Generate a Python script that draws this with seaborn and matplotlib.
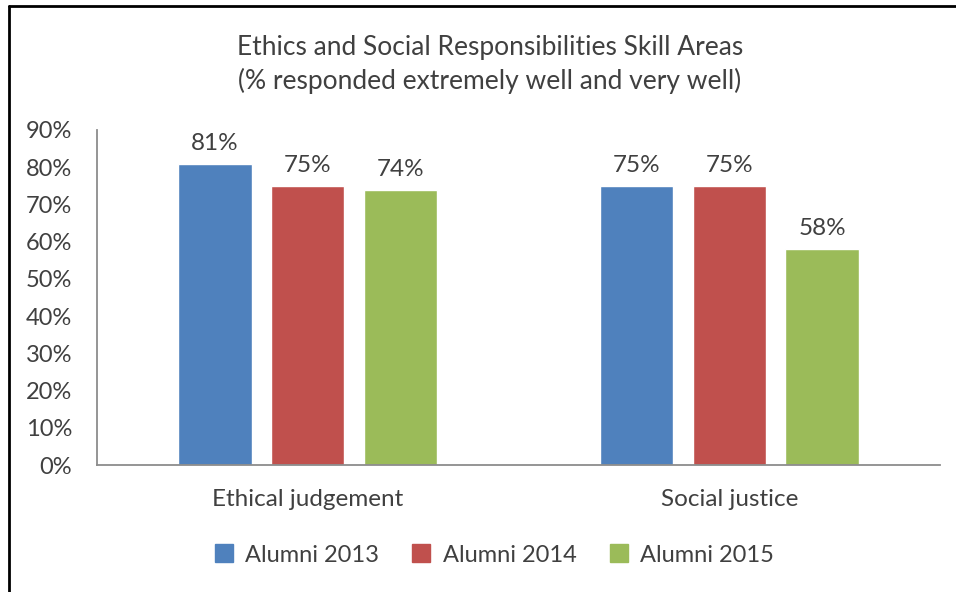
import seaborn as sns
import matplotlib.pyplot as plt
import pandas as pd
from matplotlib.lines import Line2D
from matplotlib.ticker import PercentFormatter

# values
skills = ['Ethical judgement', 'Social justice']
alumni_2013 = [0.81, 0.75]
alumni_2014 = [0.75, 0.75]
alumni_2015 = [0.74, 0.58]
series = ['Alumni 2013', 'Alumni 2014', 'Alumni 2015']
colors = ['#4F81BD', '#C0504D', '#9BBB59']

df = pd.DataFrame({
    'skill': skills * 3,
    'cohort': [series[0]] * 2 + [series[1]] * 2 + [series[2]] * 2,
    'share': alumni_2013 + alumni_2014 + alumni_2015,
})

sns.set_style('white')
plt.rcParams['font.family'] = ['Lato', 'DejaVu Sans']
txt = '#404040'

fig = plt.figure(figsize=(9.56, 5.92), dpi=100)
ax = fig.add_axes([97 / 956, 1 - 465 / 592, 843 / 956, 335 / 592])

sns.barplot(data=df, x='skill', y='share', hue='cohort', palette=colors,
            width=0.66, gap=0.21, saturation=1, ax=ax, legend=False)

for cont in ax.containers:
    ax.bar_label(cont, labels=[f'{v * 100:.0f}%' for v in cont.datavalues],
                 padding=7, fontsize=17.5, color=txt)

ax.set_ylim(0, 0.9)
ax.set_yticks([i / 10 for i in range(10)])
ax.yaxis.set_major_formatter(PercentFormatter(1.0, decimals=0))
ax.set_xlabel('')
ax.set_ylabel('')
ax.tick_params(axis='y', length=0, pad=18, labelsize=17, labelcolor=txt)
ax.tick_params(axis='x', length=0, pad=17, labelsize=17.5, labelcolor=txt)
for s in ['top', 'right']:
    ax.spines[s].set_visible(False)
for s in ['left', 'bottom']:
    ax.spines[s].set_color('#8c8c8c')
    ax.spines[s].set_linewidth(1.3)

fig.text(490 / 956, 1 - 47 / 592, 'Ethics and Social Responsibilities Skill Areas',
         ha='center', va='center', fontsize=19, color=txt)
fig.text(490 / 956, 1 - 81 / 592, '(% responded extremely well and very well)',
         ha='center', va='center', fontsize=19, color=txt)

handles = [Line2D([0], [0], marker='s', linestyle='', markersize=13,
                  markerfacecolor=c, markeredgecolor=c) for c in colors]
fig.legend(handles, series, loc='center', bbox_to_anchor=(493 / 956, 1 - 555 / 592),
           ncol=3, frameon=False, fontsize=17, labelcolor=txt,
           handletextpad=0.4, columnspacing=1.3, handlelength=1.0)

# outer frame of the embedded chart
fig.add_artist(Line2D([9 / 956, 9 / 956], [0, 1 - 6 / 592], color='black', lw=2,
                      transform=fig.transFigure))
fig.add_artist(Line2D([9 / 956, 1], [1 - 6 / 592, 1 - 6 / 592], color='black', lw=2,
                      transform=fig.transFigure))

fig.savefig('out.png', dpi=100)
